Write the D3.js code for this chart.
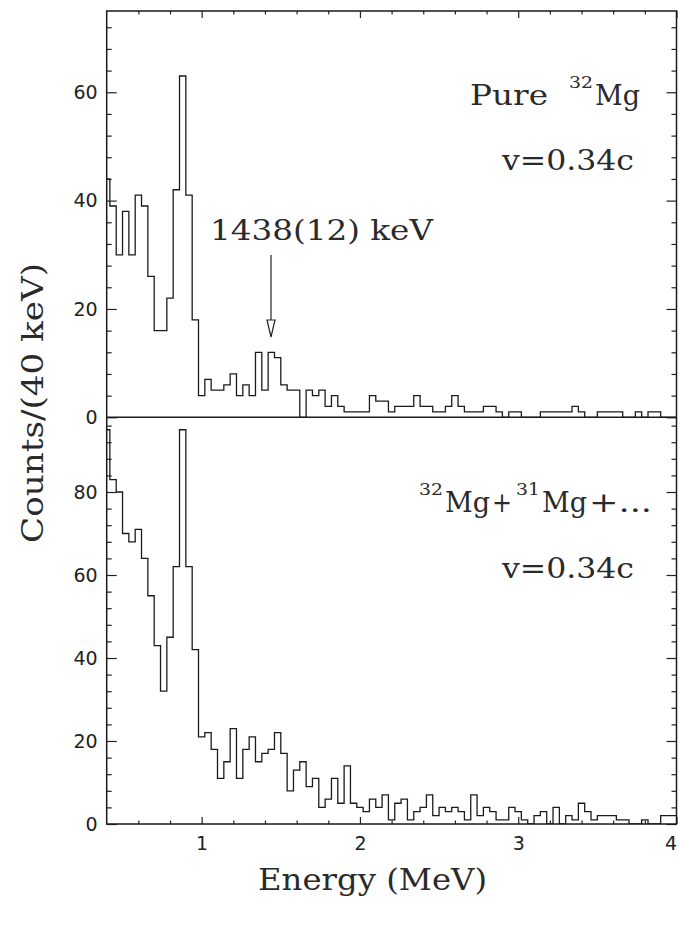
<!DOCTYPE html>
<html>
<head>
<meta charset="utf-8">
<script src="https://cdn.jsdelivr.net/npm/d3@7"></script>
<style>
  html, body { margin: 0; padding: 0; background: #fff; }
  svg { display: block; }
  .lbl { font-family: "DejaVu Serif", "Liberation Serif", serif; fill: #2a2a2a; }
  .tick text { font-family: "DejaVu Sans", "Liberation Sans", sans-serif; font-size: 19px; fill: #222; }
  .tick line { stroke: #222; stroke-width: 1.2; }
</style>
</head>
<body>
<svg id="chart" width="678" height="926"></svg>
<script>
// 40 keV bins, centred on multiples of 0.04 MeV
const binWidth = 0.04;
const firstBinCenter = 0.40;
const energyRange = [0.4, 4.0];

// Upper spectrum: pure 32Mg, v = 0.34c
const pureCounts = [
  44, 39, 30, 38, 30, 41, 39, 26, 16, 16, 22, 42, 63, 41, 18, 4,
  7, 5, 5, 6, 8, 4, 6, 4, 12, 5, 12, 11, 6, 5, 5, 0, 5, 4, 5, 2, 4, 2, 1, 1, 1,
  1, 4, 3, 3, 1, 2, 2, 2, 4, 2, 2, 1, 1, 2, 4, 2, 1, 1, 1, 2, 2, 1, 0, 1, 1,
  0, 0, 0, 1, 1, 1, 1, 1, 2, 1, 0, 0, 1, 1, 1, 1, 0, 0, 1, 0, 1, 1, 0, 0, 0
];

// Lower spectrum: 32Mg + 31Mg + ..., v = 0.34c
const mixedCounts = [
  95, 83, 80, 70, 68, 71, 64, 55, 43, 32, 45, 62, 95, 62, 42, 21,
  22, 18, 11, 15, 23, 11, 18, 21, 15, 17, 18, 22, 17, 8, 13, 15, 9, 11, 4, 6, 11, 5, 14, 5, 4,
  3, 6, 4, 7, 1, 5, 6, 1, 3, 4, 7, 2, 4, 3, 4, 3, 1, 7, 2, 4, 3, 1, 1, 4, 3,
  1, 0, 2, 3, 0, 4, 0, 2, 1, 5, 3, 1, 2, 2, 2, 1, 1, 0, 0, 1, 0, 0, 2, 2, 2
];

const xMajorTicks = [1, 2, 3, 4];
const topYMajorTicks = [0, 20, 40, 60];
const bottomYMajorTicks = [0, 20, 40, 60, 80];
const topYMax = 75;
const bottomYMax = 98;

const peakLabel = "1438(12) keV";
const peakEnergy = 1.438;

const svg = d3.select("#chart");

const L = 106.7, R = 676.5, T = 11, M = 417.3, B = 824;

const x = d3.scaleLinear().domain(energyRange).range([L, R]);
const yTop = d3.scaleLinear().domain([0, topYMax]).range([M, T]);
const yBot = d3.scaleLinear().domain([0, bottomYMax]).range([B, M]);

// minor tick positions
const xMinor = d3.range(3, 20).filter(k => k % 5 !== 0).map(k => +(k * 0.2).toFixed(2));
const yMinor = max => d3.range(4, max, 4).filter(v => v % 20 !== 0);

function stepPoints(counts) {
  const pts = [];
  counts.forEach((v, i) => {
    const c = firstBinCenter + i * binWidth;
    const lo = Math.max(energyRange[0], +(c - binWidth / 2).toFixed(3));
    const hi = Math.min(energyRange[1], +(c + binWidth / 2).toFixed(3));
    pts.push([lo, v], [hi, v]);
  });
  return pts;
}

function panel(y, counts, yMajor, yMax, yTopPx, yBotPx, withTopTicks, withBottomTicks, id) {
  const g = svg.append("g");

  g.append("clipPath").attr("id", id)
    .append("rect").attr("x", L).attr("y", yTopPx).attr("width", R - L).attr("height", yBotPx - yTopPx);

  const line = d3.line().x(d => x(d[0])).y(d => y(d[1]));
  g.append("path")
    .datum(stepPoints(counts))
    .attr("clip-path", `url(#${id})`)
    .attr("d", line)
    .attr("fill", "none")
    .attr("stroke", "#1a1a1a")
    .attr("stroke-width", 1.3);

  // left axis: labelled majors and minors, ticks pointing inward
  const la = g.append("g").attr("transform", `translate(${L},0)`)
    .call(d3.axisLeft(y).tickValues(yMajor).tickSizeInner(-10).tickSizeOuter(0).tickPadding(9).tickFormat(d3.format("d")));
  la.select(".domain").remove();
  const lm = g.append("g").attr("transform", `translate(${L},0)`)
    .call(d3.axisLeft(y).tickValues(yMinor(yMax)).tickSizeInner(-5).tickSizeOuter(0).tickFormat(""));
  lm.select(".domain").remove();

  // right axis
  const ra = g.append("g").attr("transform", `translate(${R},0)`)
    .call(d3.axisRight(y).tickValues(yMajor).tickSizeInner(-10).tickSizeOuter(0).tickFormat(""));
  ra.select(".domain").remove();
  const rm = g.append("g").attr("transform", `translate(${R},0)`)
    .call(d3.axisRight(y).tickValues(yMinor(yMax)).tickSizeInner(-5).tickSizeOuter(0).tickFormat(""));
  rm.select(".domain").remove();

  if (withTopTicks) {
    const ta = g.append("g").attr("transform", `translate(0,${yTopPx})`)
      .call(d3.axisTop(x).tickValues(xMajorTicks).tickSizeInner(-7).tickSizeOuter(0).tickFormat(""));
    ta.select(".domain").remove();
    const tm = g.append("g").attr("transform", `translate(0,${yTopPx})`)
      .call(d3.axisTop(x).tickValues(xMinor).tickSizeInner(-3.5).tickSizeOuter(0).tickFormat(""));
    tm.select(".domain").remove();
  }
  if (withBottomTicks) {
    const ba = g.append("g").attr("transform", `translate(0,${yBotPx})`)
      .call(d3.axisBottom(x).tickValues(xMajorTicks).tickSizeInner(-7).tickSizeOuter(0).tickPadding(13).tickFormat(d3.format("d")));
    ba.select(".domain").remove();
    // the last label sits at the window edge; keep it inside
    ba.selectAll(".tick text").filter(d => d === energyRange[1])
      .attr("text-anchor", "end").attr("dx", 0);
    const bm = g.append("g").attr("transform", `translate(0,${yBotPx})`)
      .call(d3.axisBottom(x).tickValues(xMinor).tickSizeInner(-3.5).tickSizeOuter(0).tickFormat(""));
    bm.select(".domain").remove();
  }
  return g;
}

panel(yTop, pureCounts, topYMajorTicks, topYMax, T, M, true, false, "clipTop");
panel(yBot, mixedCounts, bottomYMajorTicks, bottomYMax, M, B, false, true, "clipBot");

// frames
svg.append("rect").attr("x", L).attr("y", T).attr("width", R - L).attr("height", B - T)
  .attr("fill", "none").attr("stroke", "#1a1a1a").attr("stroke-width", 1.5);
svg.append("line").attr("x1", L).attr("x2", R).attr("y1", M).attr("y2", M)
  .attr("stroke", "#1a1a1a").attr("stroke-width", 1.6);

// text helper
function txt(s, px, py, size, len, opts = {}) {
  const t = svg.append("text").attr("class", "lbl")
    .attr("x", px).attr("y", py)
    .attr("font-size", size)
    .text(s);
  if (len) t.attr("textLength", len).attr("lengthAdjust", "spacingAndGlyphs");
  if (opts.transform) t.attr("transform", opts.transform);
  return t;
}

// upper panel annotations
txt("Pure", 470, 105, 28, 78);
txt("32", 569, 88, 16, 24);
txt("Mg", 595, 105, 28, 45);
txt("v=0.34c", 502, 170, 28, 132);
txt(peakLabel, 210, 240, 28, 223);

// arrow to the peak
const ax = x(peakEnergy);
svg.append("line").attr("x1", ax).attr("x2", ax).attr("y1", 255).attr("y2", 320)
  .attr("stroke", "#222").attr("stroke-width", 1.2);
svg.append("path")
  .attr("d", `M${ax - 4},320 L${ax + 4},320 L${ax},337 Z`)
  .attr("fill", "#fff").attr("stroke", "#222").attr("stroke-width", 1.2);

// lower panel annotations
txt("32", 419, 495, 16, 24);
txt("Mg", 445, 512, 28, 45);
txt("+", 492, 512, 28, 20);
txt("31", 516, 495, 16, 24);
txt("Mg", 542, 512, 28, 45);
txt("+...", 589, 512, 28, 63);
txt("v=0.34c", 502, 578, 28, 132);

// axis titles
txt("Energy (MeV)", 258, 890, 29, 229);
txt("Counts/(40 keV)", 0, 0, 29, 280, { transform: "translate(43,543) rotate(-90)" });
</script>
</body>
</html>
